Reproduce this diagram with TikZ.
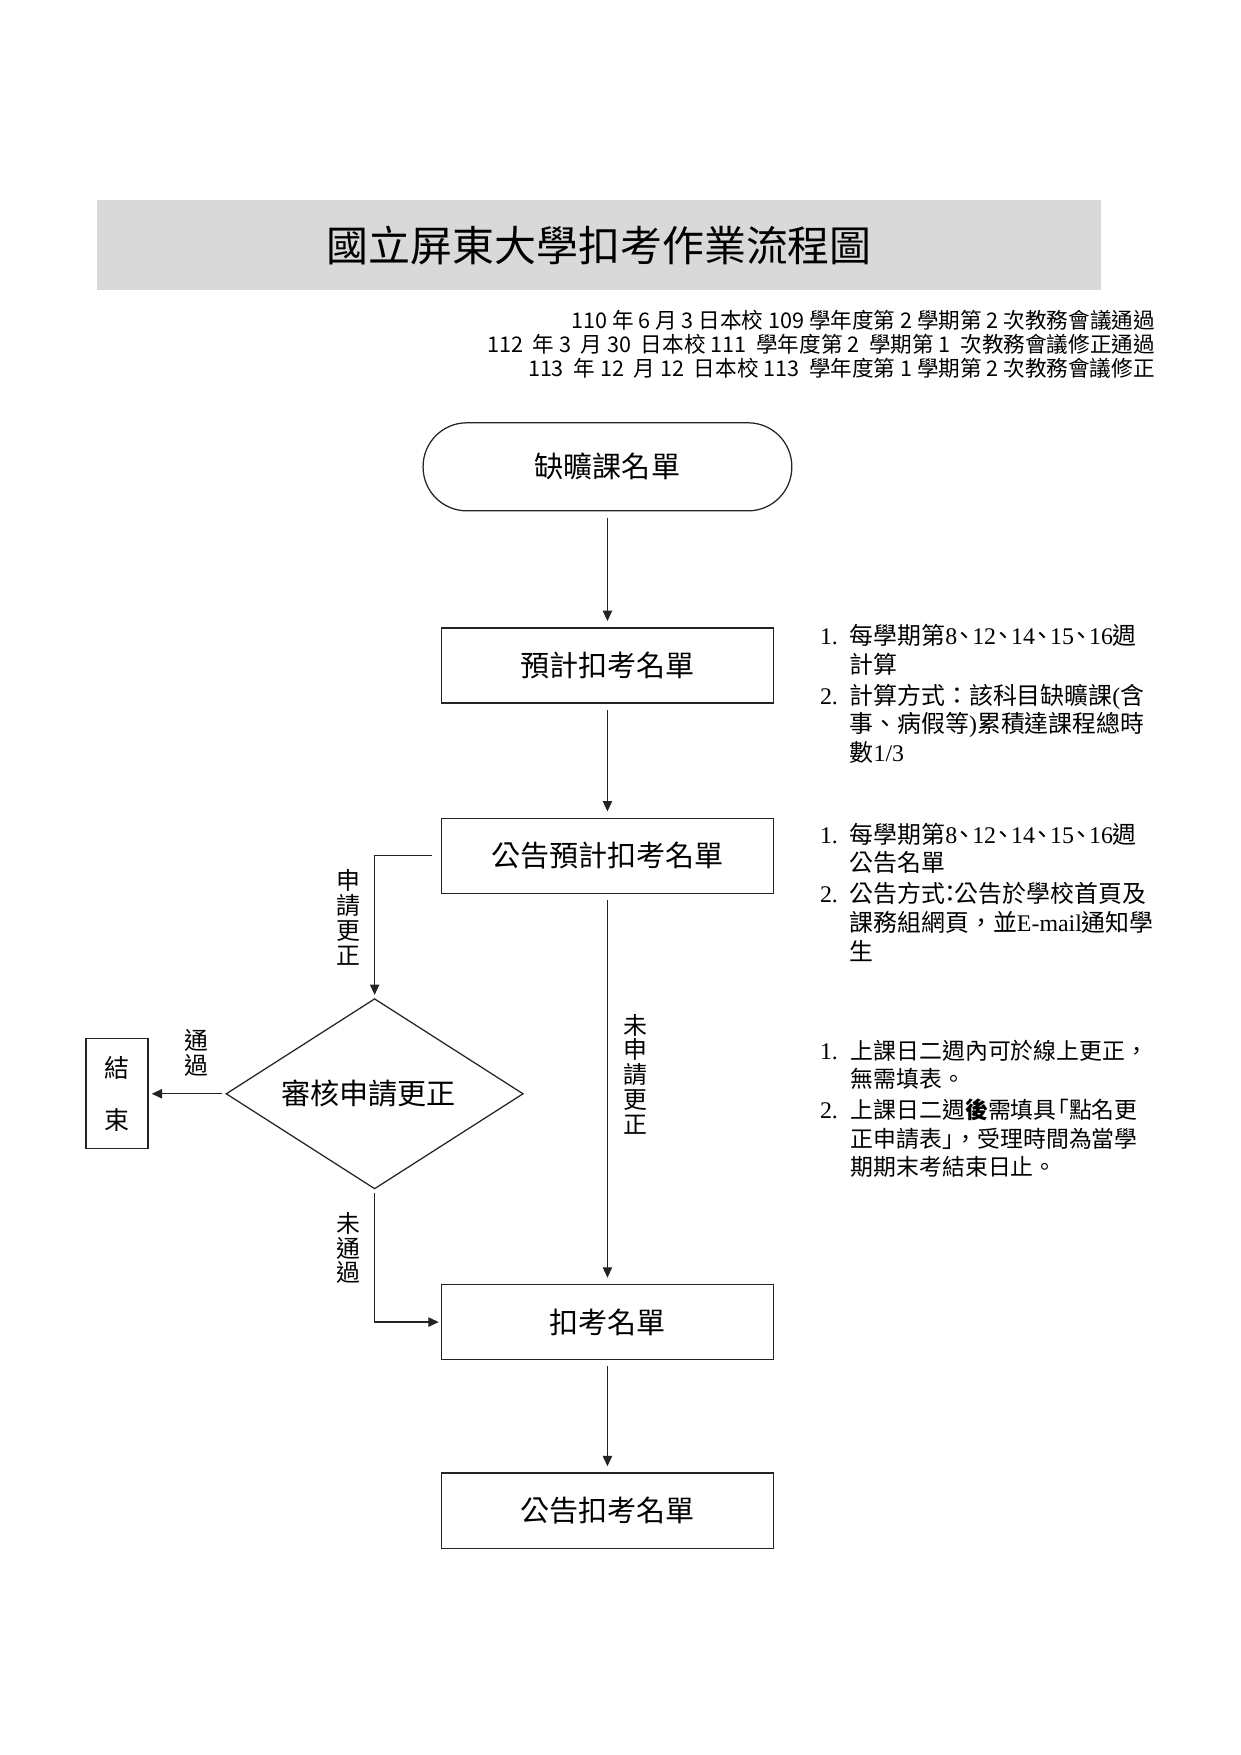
\documentclass[tikz,border=0pt]{standalone}
\usepackage{fontspec}
\setmainfont{Noto Sans CJK TC}
\newfontfamily\tnr{Liberation Serif}
\usepackage{tikz}
\usetikzlibrary{shapes.geometric, arrows.meta, positioning, calc}
\usepackage{xcolor}
\definecolor{cBand}{RGB}{217,217,217}
\definecolor{cLine}{RGB}{35,35,35}
\newcommand{\dun}{\makebox[0.63em][c]{、}}
\tikzset{
  basebox/.style={rectangle, draw=cLine, line width=0.6pt, align=center,
                  font=\fontsize{14}{16}\selectfont},
  stepbox/.style={basebox, minimum width=56.2mm, minimum height=12.7mm},
  startnode/.style={basebox, rounded corners=7.4mm, minimum width=62.4mm,
                    minimum height=14.9mm},
  checknode/.style={diamond, draw=cLine, line width=0.6pt, aspect=1.56,
                    inner sep=0pt, minimum width=50.3mm, minimum height=32.2mm,
                    font=\fontsize{14}{16}\selectfont},
  endnode/.style={basebox, minimum width=10.5mm, minimum height=18.6mm,
                  font=\fontsize{12}{25}\selectfont},
  vlabel/.style={align=center, inner sep=0pt, font=\fontsize{11.5}{12}\selectfont},
  notenode/.style={inner sep=0pt, anchor=north west, align=left,
                   font=\fontsize{11.5}{13.8}\selectfont},
  arrow/.style={-{Triangle[length=5pt,width=4.5pt]}, line width=0.6pt, color=cLine},
  flowarrow/.style={arrow, shorten <=3pt, shorten >=3pt}
}

\begin{document}
\begin{tikzpicture}[node distance=19.5mm]
  \useasboundingbox (0,0) rectangle (210mm,-297mm);

  % heading
  \node[fill=cBand, minimum width=169.9mm, minimum height=15.2mm,
        font=\fontsize{20.2}{22}\selectfont] (title) at (101.4mm,-41.5mm)
      {國立屏東大學扣考作業流程圖};
  \node[anchor=north east, align=right, inner sep=0pt,
        font=\fontsize{10.4}{11.6}\selectfont] (approval) at (195.5mm,-52.4mm)
      {110 年 6 月 3 日本校 109 學年度第 2\ 學期第 2 次教務會議通過\\
       112\ \ 年 3\ \ 月 30\ \ 日本校 111\ \ 學年度第 2\ \ 學期第 1\ \ 次教務會議修正通過\\
       113\ \ 年 12\ \ 月 12\ \ 日本校 113\ \ 學年度第 1 學期第 2 次教務會議修正};

  % main flow
  \node[startnode] (start) at (102.8mm,-79.0mm) {缺曠課名單};
  \node[stepbox, below=19.6mm of start] (draft) {預計扣考名單};
  \node[stepbox, below=19.3mm of draft] (notice) {公告預計扣考名單};
  \node[stepbox, below=66mm of notice] (final) {扣考名單};
  \node[stepbox, below=19.0mm of final] (publish) {公告扣考名單};

  % correction branch
  \node[checknode] (check) at (63.4mm,-185.1mm) {審核申請更正\hspace*{2mm}};
  \node[endnode, left=13mm of check] (finish) {結\\束};

  \draw[flowarrow] (start) -- (draft);
  \draw[flowarrow] (draft) -- (notice);
  \draw[flowarrow] (notice) -- (final);
  \draw[flowarrow] (final) -- (publish);
  \draw[arrow, shorten <=4pt, shorten >=1.5pt] (notice.west) -| (check.north);
  \draw[arrow, shorten <=1.5pt, shorten >=1.5pt] (check.west) -- (finish.east);
  \draw[arrow, shorten <=1.5pt, shorten >=1pt] (check.south) |- (final.west);

  \node[vlabel] (lblApply) at (58.9mm,-155.2mm) {申\\請\\更\\正};
  \node[vlabel] (lblSkip) at (107.6mm,-181.8mm) {未\\申\\請\\更\\正};
  \node[vlabel] (lblPass) at (33.2mm,-178.2mm) {通\\過};
  \node[vlabel] (lblFail) at (58.9mm,-211.2mm) {未\\通\\過};

  % notes
  \node[notenode] (note1) at ($(draft.north east)+(7.7mm,0.6mm)$)
      {\begin{tabular}{@{}l@{\hspace{2mm}}l@{}}
       {\tnr 1.} & 每學期第{\tnr 8}\dun{\tnr 12}\dun{\tnr 14}\dun{\tnr 15}\dun{\tnr 16}週\\
                 & 計算\\[1pt]
       {\tnr 2.} & 計算方式：該科目缺曠課{\tnr (}含\\
                 & 事、病假等{\tnr )}累積達課程總時\\
                 & 數{\tnr 1/3}
       \end{tabular}};
  \node[notenode] (note2) at ($(notice.north east)+(7.7mm,-0.8mm)$)
      {\begin{tabular}{@{}l@{\hspace{2mm}}l@{}}
       {\tnr 1.} & 每學期第{\tnr 8}\dun{\tnr 12}\dun{\tnr 14}\dun{\tnr 15}\dun{\tnr 16}週\\
                 & 公告名單\\[1pt]
       {\tnr 2.} & 公告方式\makebox[0.4em][c]{：}公告於學校首頁及\\
                 & 課務組網頁，並{\tnr E-mail}通知學\\
                 & 生
       \end{tabular}};
  \node[notenode, font=\fontsize{11}{13.8}\selectfont,
        below=11.8mm of note2.south west, anchor=north west] (note3)
      {\begin{tabular}{@{}l@{\hspace{2.2mm}}l@{}}
       {\tnr\fontsize{11.5}{13.8}\selectfont 1.} & 上課日二週內可於線上更正，\\
                 & 無需填表。\\[1pt]
       {\tnr\fontsize{11.5}{13.8}\selectfont 2.} & 上課日二週\textbf{後}需填具\makebox[0.55em][r]{「}點名更\\
                 & 正申請表\makebox[0.55em][l]{」}，受理時間為當學\\
                 & 期期末考結束日止。
       \end{tabular}};

\end{tikzpicture}
\end{document}
